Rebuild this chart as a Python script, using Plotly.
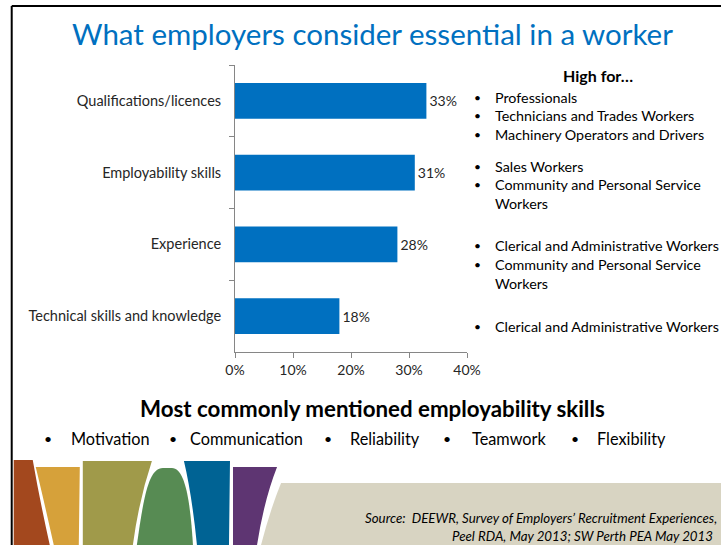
import plotly.graph_objects as go

# ---- data ----
categories = ["Qualifications/licences", "Employability skills", "Experience", "Technical skills and knowledge"]
values = [33, 31, 28, 18]
x_ticks = [0, 10, 20, 30, 40]
x_tick_labels = ["0%", "10%", "20%", "30%", "40%"]
high_for = [
    ["Professionals", "Technicians and Trades Workers", "Machinery Operators and Drivers"],
    ["Sales Workers", "Community and Personal Service|Workers"],
    ["Clerical and Administrative Workers", "Community and Personal Service|Workers"],
    ["Clerical and Administrative Workers"],
]
skills = ["Motivation", "Communication", "Reliability", "Teamwork", "Flexibility"]

W, H = 721, 545
L, R, T, B = 235, 466.7, 65, 352  # plot area in pixels

def px(x):
    return (x - L) / (R - L)

def py(y):
    return (B - y) / (B - T)

FONT = "Lato, Open Sans, sans-serif"
TXT = "#262626"
BLUE = "#0070C0"

fig = go.Figure()
fig.add_trace(go.Bar(
    x=values, y=categories, orientation="h",
    marker=dict(color=BLUE, line=dict(width=0)),
    text=[f"{v}%" for v in values], textposition="outside",
    textfont=dict(size=14, color=TXT, family=FONT),
    cliponaxis=False, hoverinfo="skip",
))

annotations = []
shapes = []

# title
annotations.append(dict(text="What employers consider essential in a worker", x=px(372), y=py(33),
                        xref="paper", yref="paper", showarrow=False, xanchor="center", yanchor="middle",
                        font=dict(size=29.5, color=BLUE, family=FONT)))
# High for...
annotations.append(dict(text="<b>High for…</b>", x=px(598), y=py(75), xref="paper", yref="paper",
                        showarrow=False, xanchor="center", yanchor="middle",
                        font=dict(size=16, color="#000000", family=FONT)))

group_tops = [97, 166, 246, 326]
line_h = 18.7
for top, items in zip(group_tops, high_for):
    yy = top
    for item in items:
        parts = item.split("|")
        annotations.append(dict(text="•", x=px(477), y=py(yy), xref="paper", yref="paper",
                                showarrow=False, xanchor="center", yanchor="middle",
                                font=dict(size=12, color="#000000", family=FONT)))
        for p in parts:
            annotations.append(dict(text=p, x=px(493), y=py(yy), xref="paper", yref="paper",
                                    showarrow=False, xanchor="left", yanchor="middle",
                                    font=dict(size=14.3, color="#000000", family=FONT)))
            yy += line_h

# bottom heading
annotations.append(dict(text="<b>Most commonly mentioned employability skills</b>", x=px(372), y=py(408),
                        xref="paper", yref="paper", showarrow=False, xanchor="center", yanchor="middle",
                        font=dict(size=22.3, color="#000000", family=FONT)))
bullet_x = [48, 173, 328, 447, 575]
text_x = [69, 188, 348, 470, 595]
for bx, tx, s in zip(bullet_x, text_x, skills):
    annotations.append(dict(text="•", x=px(bx), y=py(438), xref="paper", yref="paper",
                            showarrow=False, xanchor="center", yanchor="middle",
                            font=dict(size=14, color="#000000", family=FONT)))
    annotations.append(dict(text=s, x=px(tx), y=py(438), xref="paper", yref="paper",
                            showarrow=False, xanchor="left", yanchor="middle",
                            font=dict(size=16.3, color="#000000", family=FONT)))

# source
annotations.append(dict(text="<i>Source:  DEEWR, Survey of Employers’ Recruitment Experiences,</i>",
                        x=px(718), y=py(518), xref="paper", yref="paper", showarrow=False,
                        xanchor="right", yanchor="middle", font=dict(size=13.3, color="#000000", family=FONT)))
annotations.append(dict(text="<i>Peel RDA, May 2013; SW Perth PEA May 2013</i>",
                        x=px(714), y=py(536), xref="paper", yref="paper", showarrow=False,
                        xanchor="right", yanchor="middle", font=dict(size=13.3, color="#000000", family=FONT)))

# decorative shapes (pixel paths converted to paper)
def path(cmds):
    out = []
    for c in cmds:
        op = c[0]
        pts = c[1:]
        coords = []
        for i in range(0, len(pts), 2):
            coords.append(f"{px(pts[i]):.5f},{py(pts[i+1]):.5f}")
        out.append(op + " " + " ".join(coords) if coords else op)
    return " ".join(out)

deco = [
    ("#D8D4C2", [("M", 281, 483), ("L", 721, 483), ("L", 721, 545), ("L", 261, 545), ("Q", 270, 510, 281, 483), ("Z",)]),
    ("#A3481E", [("M", 14, 460), ("L", 33, 460), ("Q", 40, 500, 50, 545), ("L", 14, 545), ("Z",)]),
    ("#D6A13A", [("M", 36, 467), ("L", 80, 467), ("L", 79, 545), ("L", 54, 545), ("Q", 44, 500, 36, 467), ("Z",)]),
    ("#A09A4A", [("M", 83, 461), ("L", 152, 461), ("Q", 139, 500, 133, 545), ("L", 83, 545), ("Z",)]),
    ("#578B53", [("M", 137, 545), ("C", 144, 495, 149, 468, 163, 468), ("L", 172, 468), ("C", 184, 468, 190, 495, 193, 545), ("Z",)]),
    ("#006394", [("M", 184, 461), ("L", 230, 461), ("L", 229, 545), ("L", 197, 545), ("Q", 192, 495, 184, 461), ("Z",)]),
    ("#5E3572", [("M", 233, 467), ("L", 277, 467), ("Q", 264, 500, 257, 545), ("L", 233, 545), ("Z",)]),
]
for color, cmds in deco:
    shapes.append(dict(type="path", path=path(cmds), xref="paper", yref="paper",
                       fillcolor=color, line=dict(width=0), layer="below"))

# slide border (top and left)
shapes.append(dict(type="line", x0=px(12), x1=px(721), y0=py(6), y1=py(6), xref="paper", yref="paper",
                   line=dict(color="#000000", width=2)))
shapes.append(dict(type="line", x0=px(12), x1=px(12), y0=py(6), y1=py(545), xref="paper", yref="paper",
                   line=dict(color="#000000", width=2)))

fig.update_layout(
    width=W, height=H,
    margin=dict(l=L, r=W - R, t=T, b=H - B, pad=0),
    paper_bgcolor="white", plot_bgcolor="white",
    showlegend=False, bargap=0.5,
    font=dict(family=FONT, color=TXT, size=14),
    xaxis=dict(range=[0, 40], tickvals=x_ticks, ticktext=x_tick_labels, showgrid=False, zeroline=False,
               showline=True, linecolor="#868686", linewidth=1, ticks="outside", ticklen=5,
               tickcolor="#868686", tickfont=dict(size=14, color=TXT, family=FONT)),
    yaxis=dict(autorange="reversed", showgrid=False, zeroline=False, showline=True, linecolor="#868686",
               linewidth=1, ticks="outside", ticklen=5, tickcolor="#868686", tickson="boundaries",
               ticklabelstandoff=10, tickfont=dict(size=14.5, color=TXT, family=FONT)),
    annotations=annotations, shapes=shapes,
)

fig.write_html("out.html", config={"displayModeBar": False},
               post_script="document.body.style.margin='0';document.body.style.overflow='hidden';")
